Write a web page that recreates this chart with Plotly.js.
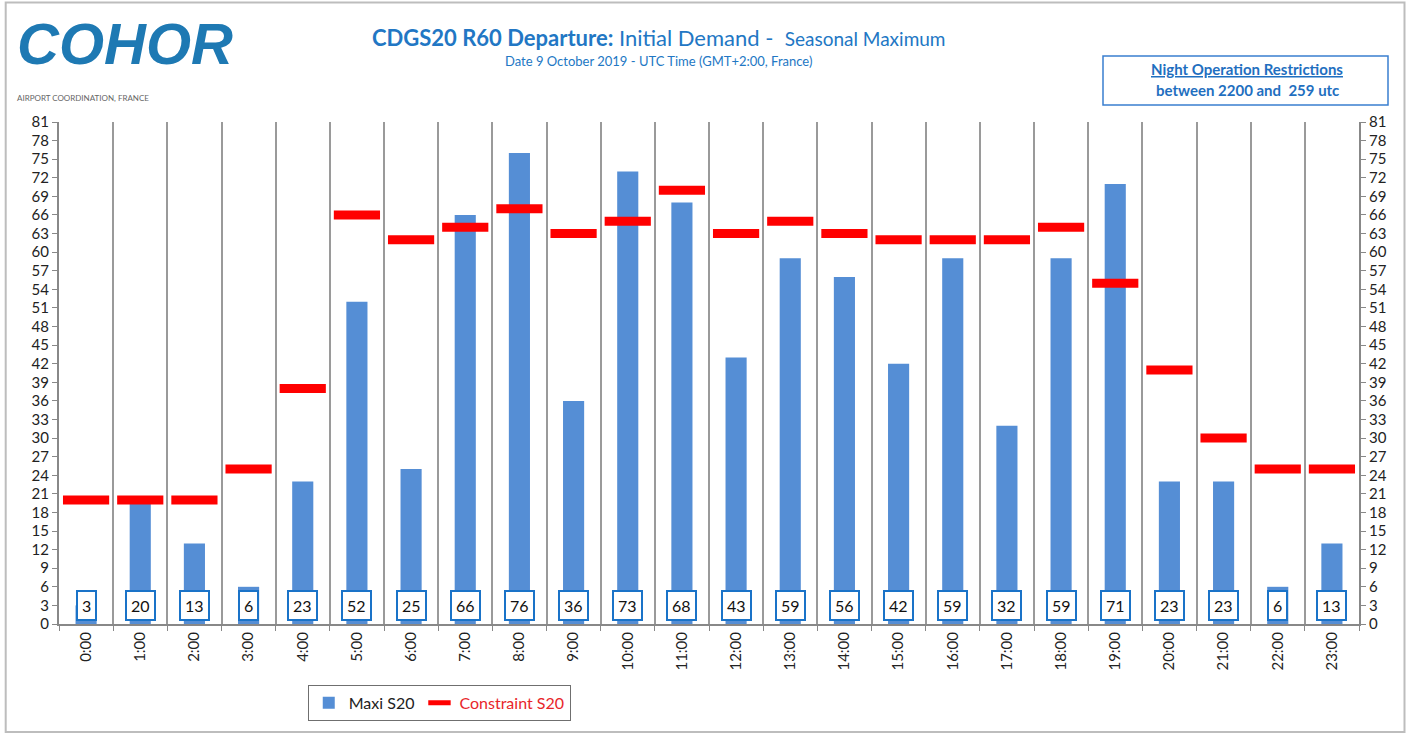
<!DOCTYPE html>
<html>
<head>
<meta charset="utf-8">
<script src="https://cdn.plot.ly/plotly-3.0.1.min.js"></script>
<style>html,body{margin:0;padding:0;background:#fff;}#chart{width:1410px;height:733px;}</style>
</head>
<body>
<div id="chart"></div>
<script>
const hours = ["0:00","1:00","2:00","3:00","4:00","5:00","6:00","7:00","8:00","9:00","10:00","11:00","12:00","13:00","14:00","15:00","16:00","17:00","18:00","19:00","20:00","21:00","22:00","23:00"];
const maxiS20 = [3,20,13,6,23,52,25,66,76,36,73,68,43,59,56,42,59,32,59,71,23,23,6,13];
const constraintS20 = [20,20,20,25,38,66,62,64,67,63,65,70,63,65,63,62,62,62,64,55,41,30,25,25];
const yTicks = [0,3,6,9,12,15,18,21,24,27,30,33,36,39,42,45,48,51,54,57,60,63,66,69,72,75,78,81];

const FONT = "Lato, 'Open Sans', sans-serif";

const traces = [
  {
    type: "bar", name: "Maxi S20", x: hours, y: maxiS20,
    marker: {color: "#558ed5"}, hoverinfo: "x+y"
  },
  {
    type: "scatter", mode: "markers", name: '<span style="color:#e8262b">Constraint S20</span>',
    x: hours, y: constraintS20,
    marker: {symbol: "line-ew", size: 33, color: "#ff0000", line: {color: "#ff0000", width: 9}}
  },
  {
    type: "scatter", mode: "markers", x: hours, y: constraintS20, yaxis: "y2",
    marker: {opacity: 0, size: 1}, showlegend: false, hoverinfo: "skip"
  }
];

const labelAnns = hours.map((h, i) => ({
  x: h, y: 3, xref: "x", yref: "y", text: String(maxiS20[i]), showarrow: false,
  font: {family: FONT, size: 16, color: "#111"},
  bgcolor: "#ffffff", bordercolor: "#1a73c8", borderwidth: 2, borderpad: 4,
  xanchor: "center", yanchor: "middle"
}));

const layout = {
  width: 1410, height: 733,
  paper_bgcolor: "#ffffff", plot_bgcolor: "#ffffff",
  margin: {l: 59, r: 51, t: 122, b: 109},
  bargap: 0.61,
  showlegend: true,
  legend: {
    orientation: "h", x: 0.2925, xanchor: "center", y: -0.157, yanchor: "middle",
    bordercolor: "#6f6f6f", borderwidth: 1, bgcolor: "#ffffff",
    font: {family: FONT, size: 16, color: "#222"}, itemwidth: 30
  },
  xaxis: {
    type: "category", range: [-0.5, 23.5], autorange: false,
    tickson: "boundaries", ticks: "outside", ticklen: 5, tickcolor: "#888",
    showgrid: true, gridcolor: "#9a9a9a", gridwidth: 2,
    showline: true, linecolor: "#888", linewidth: 2, mirror: false,
    tickangle: -90, tickfont: {family: FONT, size: 15, color: "#222"},
    fixedrange: true
  },
  yaxis: {
    range: [0, 81], tickvals: yTicks, ticks: "outside", ticklen: 5, tickcolor: "#888",
    showgrid: false, zeroline: false, showline: true, linecolor: "#888", linewidth: 2,
    tickfont: {family: FONT, size: 15, color: "#222"}, fixedrange: true
  },
  yaxis2: {
    overlaying: "y", side: "right", range: [0, 81], tickvals: yTicks,
    ticks: "outside", ticklen: 5, tickcolor: "#888",
    showgrid: false, zeroline: false, showline: true, linecolor: "#888", linewidth: 2,
    tickfont: {family: FONT, size: 15, color: "#222"}, fixedrange: true
  },
  shapes: [
    {type: "rect", xref: "paper", yref: "paper", x0: -0.041, x1: 1.035, y0: -0.215, y1: 1.238,
     line: {color: "#bdbdbd", width: 2}, fillcolor: "rgba(0,0,0,0)", layer: "below"},
    {type: "rect", xref: "paper", yref: "paper", x0: (1103-59)/1300, x1: (1388-59)/1300,
     y0: (624-105)/502, y1: (624-56)/502, line: {color: "#3a7fd0", width: 1.5}, fillcolor: "#ffffff"}
  ],
  annotations: labelAnns.concat([
    {xref: "paper", yref: "paper", x: (658-59)/1300, y: (624-38)/502, showarrow: false,
     xanchor: "center", yanchor: "middle",
     text: '<b>CDGS20 R60 Departure:</b> Initial Demand -  <span style="font-size:19px">Seasonal Maximum</span>',
     font: {family: FONT, size: 22, color: "#2277c4"}},
    {xref: "paper", yref: "paper", x: (658-59)/1300, y: (624-61)/502, showarrow: false,
     xanchor: "center", yanchor: "middle",
     text: "Date 9 October 2019 - UTC Time (GMT+2:00, France)",
     font: {family: FONT, size: 13, color: "#2277c4"}},
    {xref: "paper", yref: "paper", x: (15-59)/1300, y: (624-44)/502, showarrow: false,
     xanchor: "left", yanchor: "middle",
     text: "<b><i>COHOR</i></b>",
     font: {family: "'Liberation Sans', sans-serif", size: 58, color: "#1e79b3"}},
    {xref: "paper", yref: "paper", x: (15-59)/1300, y: (624-98)/502, showarrow: false,
     xanchor: "left", yanchor: "middle",
     text: "AIRPORT COORDINATION, FRANCE",
     font: {family: FONT, size: 8, color: "#666"}},
    {xref: "paper", yref: "paper", x: (1247-59)/1300, y: (624-69)/502, showarrow: false,
     xanchor: "center", yanchor: "middle",
     text: "<b><u>Night Operation Restrictions</u></b>",
     font: {family: FONT, size: 15, color: "#1f6fc0"}},
    {xref: "paper", yref: "paper", x: (1247-59)/1300, y: (624-90)/502, showarrow: false,
     xanchor: "center", yanchor: "middle",
     text: "<b>between 2200 and  259 utc</b>",
     font: {family: FONT, size: 15, color: "#1f6fc0"}}
  ])
};

Plotly.newPlot("chart", traces, layout, {displayModeBar: false, staticPlot: true});
</script>
</body>
</html>
